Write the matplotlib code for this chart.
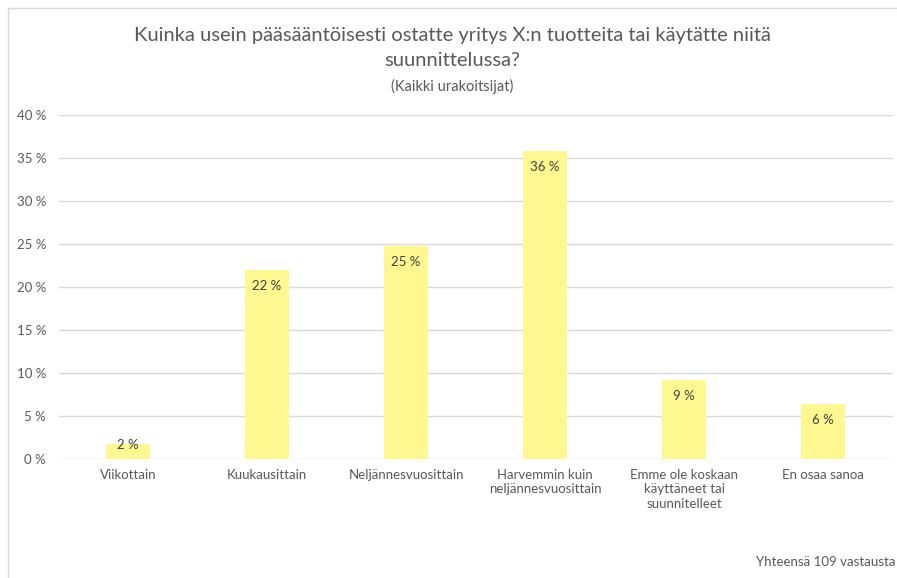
import matplotlib
matplotlib.use("Agg")
import matplotlib.pyplot as plt
from matplotlib.patches import Rectangle

plt.rcParams['font.family'] = ['Lato', 'DejaVu Sans']

categories = ["Viikottain", "Kuukausittain", "Neljännesvuosittain",
              "Harvemmin kuin\nneljännesvuosittain",
              "Emme ole koskaan\nkäyttäneet tai\nsuunnitelleet",
              "En osaa sanoa"]
shares = [1.8, 22.0, 24.8, 35.8, 9.2, 6.4]  # % of 109 answers
yticks = [0, 5, 10, 15, 20, 25, 30, 35, 40]

W, H = 897, 578
fig = plt.figure(figsize=(W / 100, H / 100), dpi=100)

# chart frame
fig.patches.append(Rectangle((8 / W, -0.1), 1.0, 1.0 - 8 / H + 0.1,
                             transform=fig.transFigure, fill=False,
                             edgecolor="#D9D9D9", lw=1))

ax = fig.add_axes([58.5 / W, 1 - 459 / H, (892.5 - 58.5) / W, (459 - 115) / H])
x = range(len(categories))
bars = ax.bar(x, shares, width=0.32, color="#FFF78F", zorder=2)

# labels sit just inside the bar top; too-short bars get them at the top edge
for b, v in zip(bars, shares):
    ly = v - 1.9 if v > 4 else v - 0.2
    ax.text(b.get_x() + b.get_width() / 2, ly, f"{round(v)} %",
            ha="center", va="center", fontsize=9.5, color="#404040", zorder=3)

ax.set_xlim(-0.5, len(categories) - 0.5)
ax.set_ylim(0, 40)
ax.set_yticks(yticks)
ax.set_yticklabels([f"{t} %" for t in yticks])
ax.set_xticks(list(x))
ax.set_xticklabels(categories, linespacing=1.25)
ax.tick_params(axis="both", length=0, labelsize=9.5, colors="#595959")
ax.tick_params(axis="y", pad=9)
ax.tick_params(axis="x", pad=7)
ax.grid(axis="y", color="#D9D9D9", lw=1, zorder=0)
for s in ax.spines.values():
    s.set_visible(False)

fig.text(452 / W, 1 - 35 / H, "Kuinka usein pääsääntöisesti ostatte yritys X:n tuotteita tai käytätte niitä",
         ha="center", va="center", fontsize=14.5, color="#595959")
fig.text(452 / W, 1 - 61 / H, "suunnittelussa?",
         ha="center", va="center", fontsize=14.5, color="#595959")
fig.text(452 / W, 1 - 86 / H, "(Kaikki urakoitsijat)",
         ha="center", va="center", fontsize=10.5, color="#595959")
fig.text(895 / W, 1 - 562 / H, "Yhteensä 109 vastausta",
         ha="right", va="center", fontsize=9.5, color="#595959")

fig.savefig("out.png", dpi=100)
